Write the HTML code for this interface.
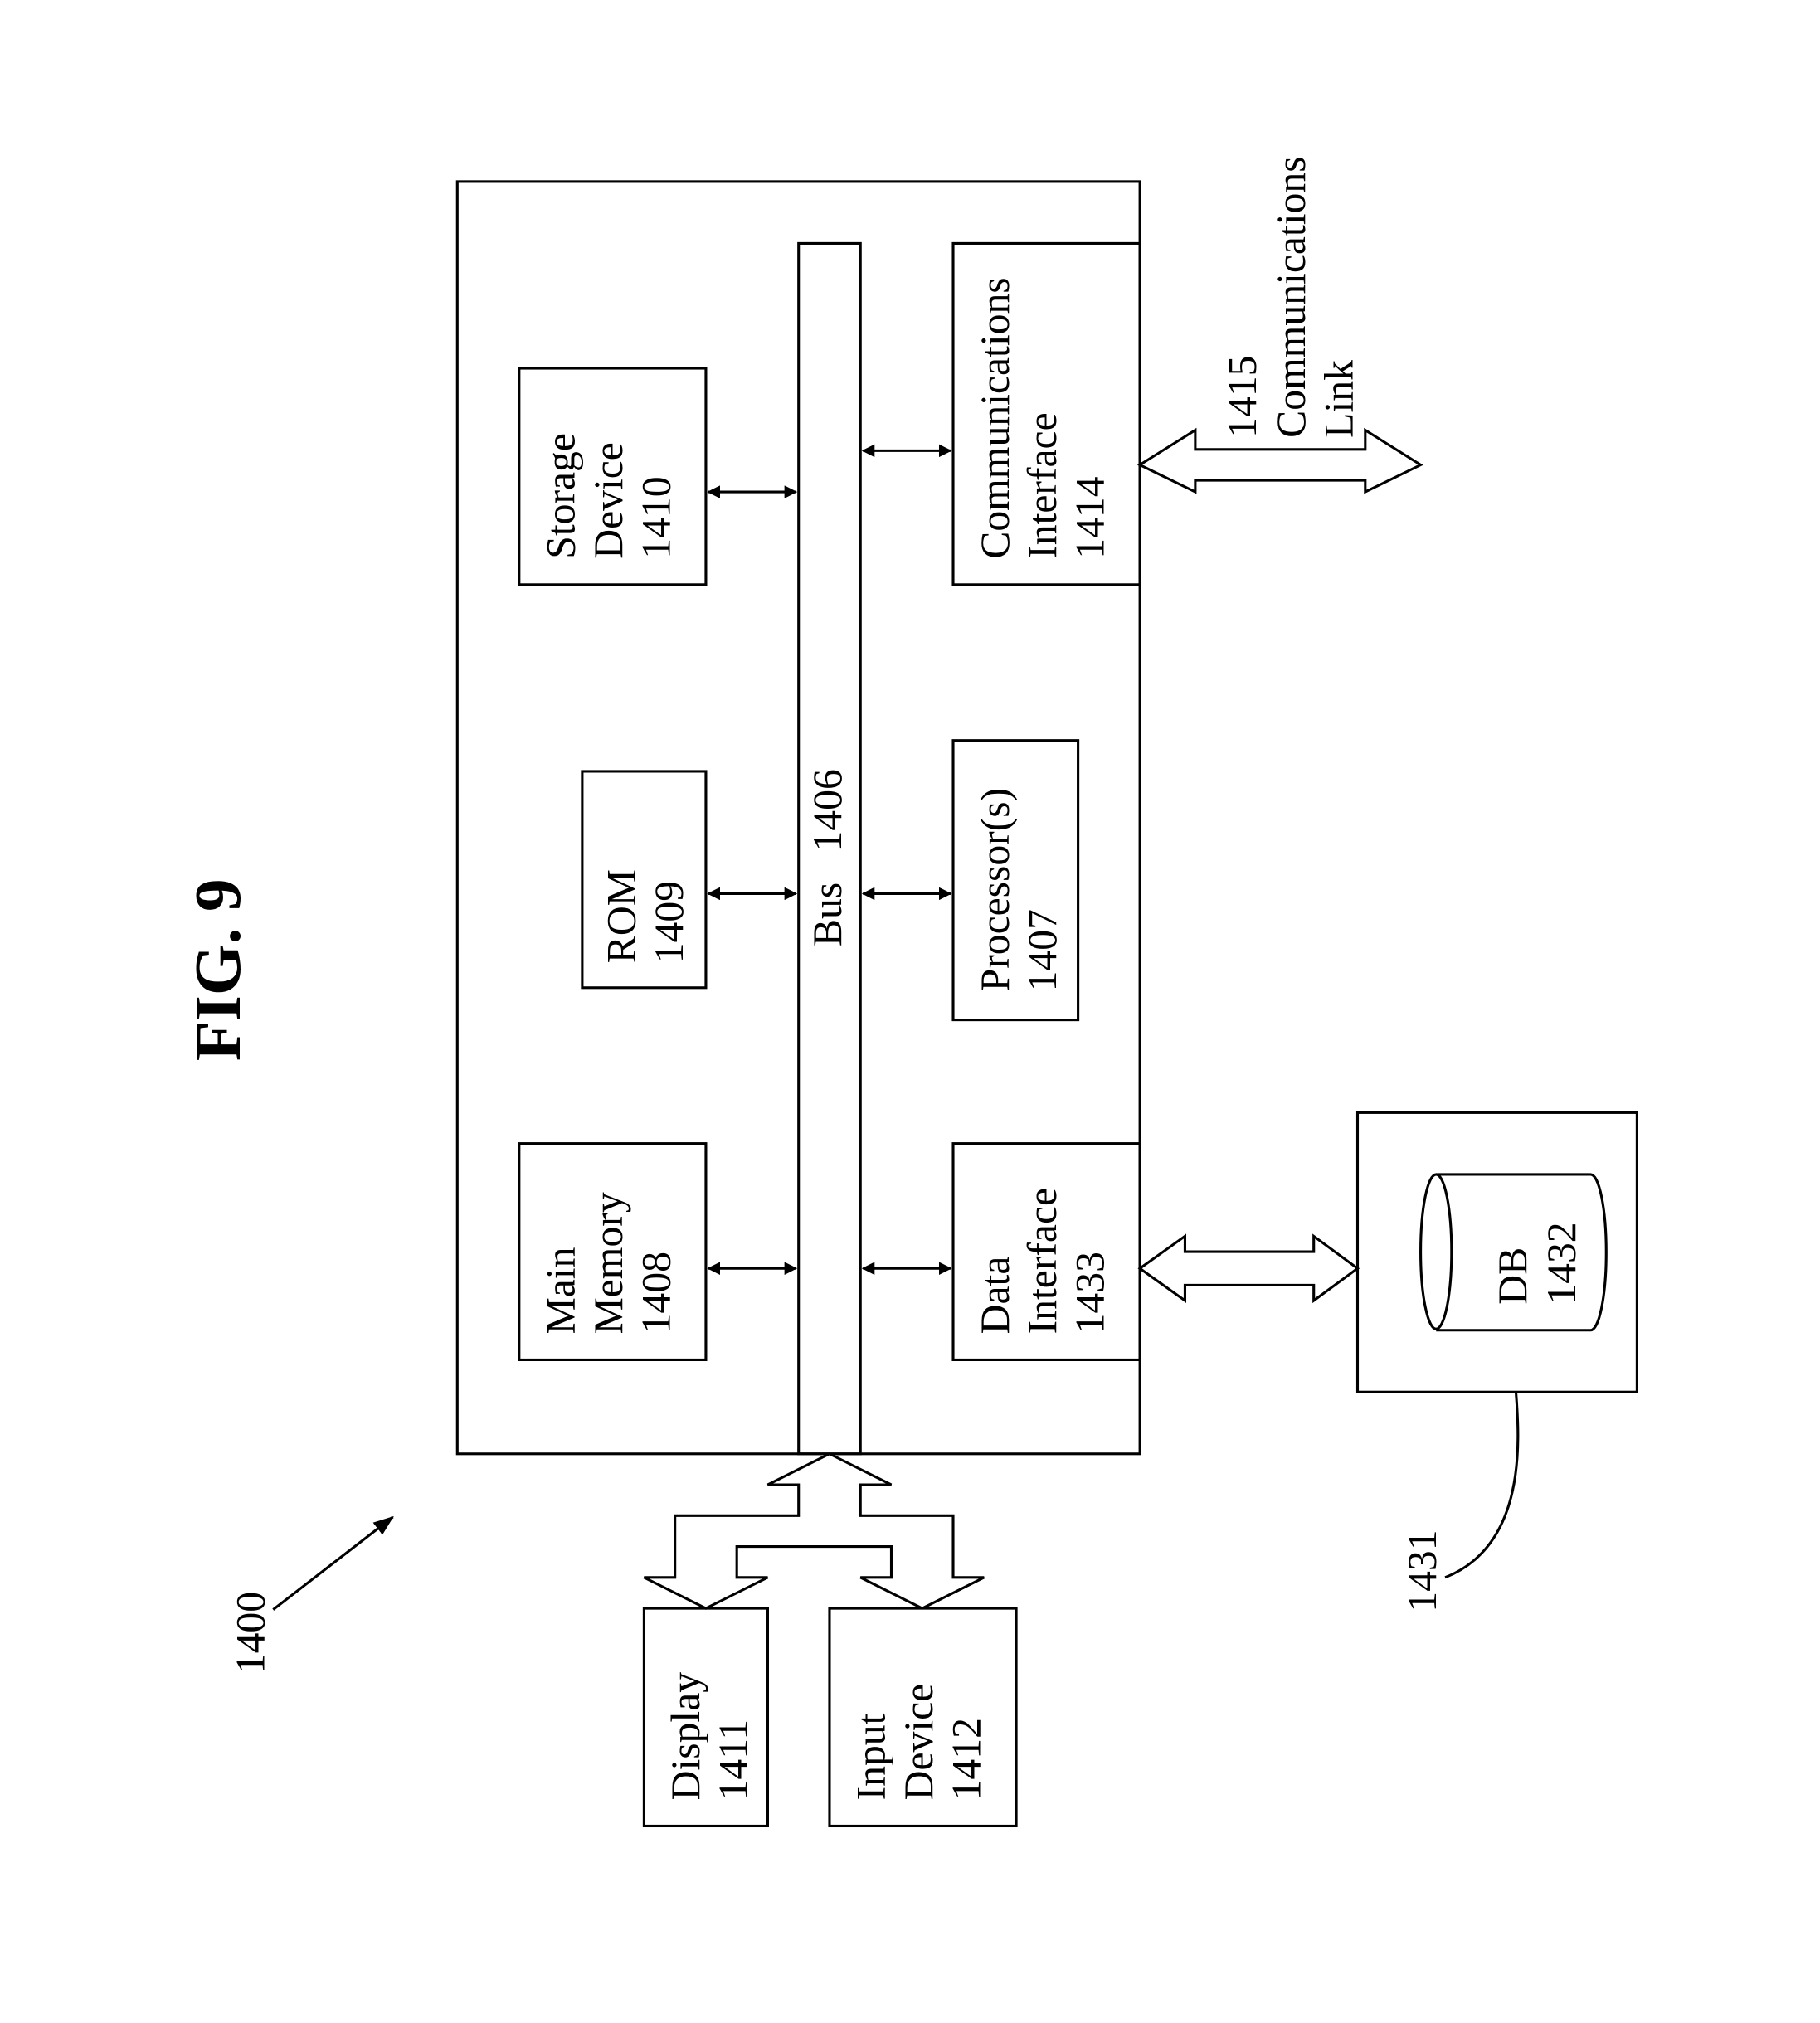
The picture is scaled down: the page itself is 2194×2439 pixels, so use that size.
<!DOCTYPE html>
<html><head><meta charset="utf-8"><style>html,body{margin:0;padding:0;background:#fff}svg{display:block}</style></head>
<body>
<svg width="2194" height="2439" viewBox="0 0 1413 1571" xmlns="http://www.w3.org/2000/svg" font-family="Liberation Serif, serif" font-size="32" fill="none" stroke="#000" stroke-width="2">
<defs>
<marker id="a" markerWidth="10" markerHeight="10" refX="9" refY="5" orient="auto-start-reverse" markerUnits="userSpaceOnUse"><path d="M0,0 L10,5 L0,10 Z" fill="#000" stroke="none"/></marker>
<marker id="b" markerWidth="16" markerHeight="12" refX="15" refY="6" orient="auto" markerUnits="userSpaceOnUse"><path d="M0,0 L16,6 L0,12 Z" fill="#000" stroke="none"/></marker>
</defs>
<rect x="355" y="141" width="530" height="988"/>
<rect x="620" y="189" width="48" height="940"/>
<rect x="403" y="286" width="145" height="168"/>
<rect x="452" y="599" width="96" height="168"/>
<rect x="403" y="888" width="145" height="168"/>
<rect x="740" y="189" width="145" height="265"/>
<rect x="740" y="575" width="97" height="217"/>
<rect x="740" y="888" width="145" height="168"/>
<rect x="1054" y="864" width="217" height="217"/>
<rect x="500" y="1249" width="96" height="169"/>
<rect x="644" y="1249" width="145" height="169"/>
<g marker-start="url(#a)" marker-end="url(#a)">
<line x1="550" y1="382" x2="618" y2="382"/><line x1="550" y1="694" x2="618" y2="694"/><line x1="550" y1="985" x2="618" y2="985"/>
<line x1="670" y1="350" x2="738" y2="350"/><line x1="670" y1="694" x2="738" y2="694"/><line x1="670" y1="985" x2="738" y2="985"/>
</g>
<polygon points="885,361 928,334 928,349 1060,349 1060,334 1103,361 1060,382 1060,373 928,373 928,382"/>
<polygon points="885,985 920,960 920,972 1020,972 1020,960 1054,985 1020,1010 1020,998 920,998 920,1010"/>
<polygon points="644,1129 692,1153 668,1153 668,1177 740,1177 740,1225 764,1225 716,1249 668,1225 692,1225 692,1201 572,1201 572,1225 596,1225 548,1249 500,1225 524,1225 524,1177 620,1177 620,1153 596,1153"/>
<path d="M1115,912 L1235,912 A12,60 0 0 1 1235,1033 L1115,1033"/>
<ellipse cx="1115" cy="972" rx="12" ry="60"/>
<path d="M1177,1081 C1180,1120 1185,1200 1122,1225"/>
<line x1="212" y1="1250" x2="305" y2="1178" marker-end="url(#b)"/>
<g fill="#000" stroke="none">
<text transform="translate(446,434) rotate(-90)">Storage</text>
<text transform="translate(483,434) rotate(-90)">Device</text>
<text transform="translate(520,434) rotate(-90)">1410</text>
<text transform="translate(493,748) rotate(-90)">ROM</text>
<text transform="translate(530,748) rotate(-90)">1409</text>
<text transform="translate(446,1036) rotate(-90)">Main</text>
<text transform="translate(483,1036) rotate(-90)">Memory</text>
<text transform="translate(520,1036) rotate(-90)">1408</text>
<text transform="translate(783,434) rotate(-90)">Communications</text>
<text transform="translate(820,434) rotate(-90)">Interface</text>
<text transform="translate(857,434) rotate(-90)">1414</text>
<text transform="translate(783,770) rotate(-90)">Processor(s)</text>
<text transform="translate(820,770) rotate(-90)">1407</text>
<text transform="translate(783,1036) rotate(-90)">Data</text>
<text transform="translate(820,1036) rotate(-90)">Interface</text>
<text transform="translate(857,1036) rotate(-90)">1433</text>
<text transform="translate(653,735) rotate(-90)" xml:space="preserve">Bus   1406</text>
<text transform="translate(975,340) rotate(-90)">1415</text>
<text transform="translate(1013,340) rotate(-90)">Communications</text>
<text transform="translate(1050,340) rotate(-90)">Link</text>
<text transform="translate(1185,1013) rotate(-90)">DB</text>
<text transform="translate(1223,1013) rotate(-90)">1432</text>
<text transform="translate(1115,1252) rotate(-90)">1431</text>
<text transform="translate(543,1398) rotate(-90)">Display</text>
<text transform="translate(580,1398) rotate(-90)">1411</text>
<text transform="translate(687,1398) rotate(-90)">Input</text>
<text transform="translate(724,1398) rotate(-90)">Device</text>
<text transform="translate(761,1398) rotate(-90)">1412</text>
<text transform="translate(205,1300) rotate(-90)">1400</text>
<text transform="translate(186,824) rotate(-90)" font-size="51" font-weight="bold">FIG. 9</text>
</g>
</svg>
</body></html>
